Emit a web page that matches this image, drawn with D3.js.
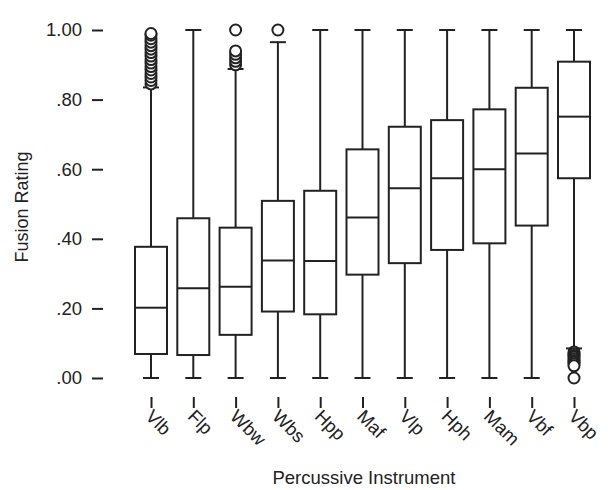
<!DOCTYPE html>
<html>
<head>
	<meta charset="utf-8">
	<title>Fusion Rating by Percussive Instrument</title>
	<style>
		body { margin: 0; background: #fff; }
		svg text { font-family: "Liberation Sans", Arial, sans-serif; fill: #222; }
	</style>
	<script src="https://cdn.jsdelivr.net/npm/d3@7/dist/d3.min.js"></script>
</head>
<body>
	<svg width="616" height="490"></svg>
	<script>

		var instruments = ["Vlb", "Flp", "Wbw", "Wbs", "Hpp", "Maf", "Vlp", "Hph", "Mam", "Vbf", "Vbp"];
		var q1 = [0.069, 0.066, 0.124, 0.191, 0.183, 0.297, 0.330, 0.368, 0.387, 0.438, 0.574];
		var medians = [0.202, 0.258, 0.262, 0.338, 0.336, 0.461, 0.545, 0.574, 0.600, 0.645, 0.751];
		var q3 = [0.377, 0.459, 0.432, 0.509, 0.538, 0.657, 0.722, 0.741, 0.772, 0.834, 0.909];
		var whiskerLow = [0, 0, 0, 0, 0, 0, 0, 0, 0, 0, 0.085];
		var whiskerHigh = [0.835, 1, 0.888, 0.965, 1, 1, 1, 1, 1, 1, 1];
		var outliers = {
			Vlb: [0.845, 0.855, 0.865, 0.875, 0.885, 0.895, 0.905, 0.915, 0.925, 0.935, 0.945, 0.955, 0.965, 0.975, 0.985, 0.99],
			Wbw: [0.90, 0.91, 0.92, 0.93, 0.94, 1.0],
			Wbs: [1.0],
			Vbp: [0.075, 0.07, 0.065, 0.06, 0.055, 0.05, 0.045, 0.04, 0.035, 0.0]
		};
		var yTicks = [0, 0.2, 0.4, 0.6, 0.8, 1.0];
		var yTickLabels = [".00", ".20", ".40", ".60", ".80", "1.00"];

		var svg = d3.select("svg"),
		    left = 103, right = 617, top = 11, bottom = 397,
		    ink = "#222";

		var x = d3.scalePoint()
		    .domain(instruments)
		    .range([151, 574]);

		var y = d3.scaleLinear()
		    .domain([0, 1])
		    .range([378, 30]);

		var boxW = 32, capW = 16;

		var data = instruments.map(function(name, i) {
			return {name: name, q1: q1[i], med: medians[i], q3: q3[i], lo: whiskerLow[i], hi: whiskerHigh[i]};
		});

		// frame
		svg.append("rect")
		    .attr("x", left)
		    .attr("y", top)
		    .attr("width", right - left)
		    .attr("height", bottom - top)
		    .attr("fill", "none")
		    .attr("stroke", ink)
		    .attr("stroke-width", 2);

		// y axis
		var yAxis = svg.append("g")
		    .attr("transform", "translate(" + left + ",0)")
		    .call(d3.axisLeft(y)
		        .tickValues(yTicks)
		        .tickSize(11)
		        .tickPadding(10)
		        .tickFormat(function(d, i) { return yTickLabels[i]; }));
		yAxis.select(".domain").remove();
		yAxis.selectAll("line").attr("stroke", ink).attr("stroke-width", 2);
		yAxis.selectAll("text")
		    .attr("font-size", 18.5)
		    .attr("font-family", "Liberation Sans, Arial, sans-serif")
		    .attr("fill", ink);

		// x axis
		var xAxis = svg.append("g")
		    .attr("transform", "translate(0," + bottom + ")")
		    .call(d3.axisBottom(x).tickSize(11).tickFormat(""));
		xAxis.select(".domain").remove();
		xAxis.selectAll("line").attr("stroke", ink).attr("stroke-width", 2);

		svg.append("g")
		    .selectAll("text")
		    .data(instruments)
		    .enter().append("text")
		      .attr("transform", function(d) { return "translate(" + x(d) + ",411) rotate(45)"; })
		      .attr("dy", "0.5em")
		      .attr("font-size", 18.5)
		      .attr("text-anchor", "start")
		      .text(function(d) { return d; });

		// boxes
		var g = svg.append("g")
		    .attr("stroke", ink)
		    .attr("stroke-width", 2)
		    .attr("fill", "none");

		var box = g.selectAll("g")
		    .data(data)
		    .enter().append("g")
		      .attr("transform", function(d) { return "translate(" + x(d.name) + ",0)"; });

		box.append("line")
		    .attr("y1", function(d) { return y(d.q3); })
		    .attr("y2", function(d) { return y(d.hi); });

		box.append("line")
		    .attr("y1", function(d) { return y(d.q1); })
		    .attr("y2", function(d) { return y(d.lo); });

		box.append("line")
		    .attr("x1", -capW / 2).attr("x2", capW / 2)
		    .attr("y1", function(d) { return y(d.hi); })
		    .attr("y2", function(d) { return y(d.hi); });

		box.append("line")
		    .attr("x1", -capW / 2).attr("x2", capW / 2)
		    .attr("y1", function(d) { return y(d.lo); })
		    .attr("y2", function(d) { return y(d.lo); });

		box.append("rect")
		    .attr("x", -boxW / 2)
		    .attr("width", boxW)
		    .attr("y", function(d) { return y(d.q3); })
		    .attr("height", function(d) { return y(d.q1) - y(d.q3); })
		    .attr("fill", "#fff");

		box.append("line")
		    .attr("x1", -boxW / 2).attr("x2", boxW / 2)
		    .attr("y1", function(d) { return y(d.med); })
		    .attr("y2", function(d) { return y(d.med); });

		box.selectAll("circle")
		    .data(function(d) { return outliers[d.name] || []; })
		    .enter().append("circle")
		      .attr("r", 5.5)
		      .attr("cy", function(v) { return y(v); })
		      .attr("fill", "#fff");

		// axis titles
		svg.append("text")
		    .attr("transform", "translate(28,207) rotate(-90)")
		    .attr("text-anchor", "middle")
		    .attr("font-size", 18)
		    .text("Fusion Rating");

		svg.append("text")
		    .attr("x", 364)
		    .attr("y", 484)
		    .attr("text-anchor", "middle")
		    .attr("font-size", 18.5)
		    .text("Percussive Instrument");

	</script>
</body>
</html>
